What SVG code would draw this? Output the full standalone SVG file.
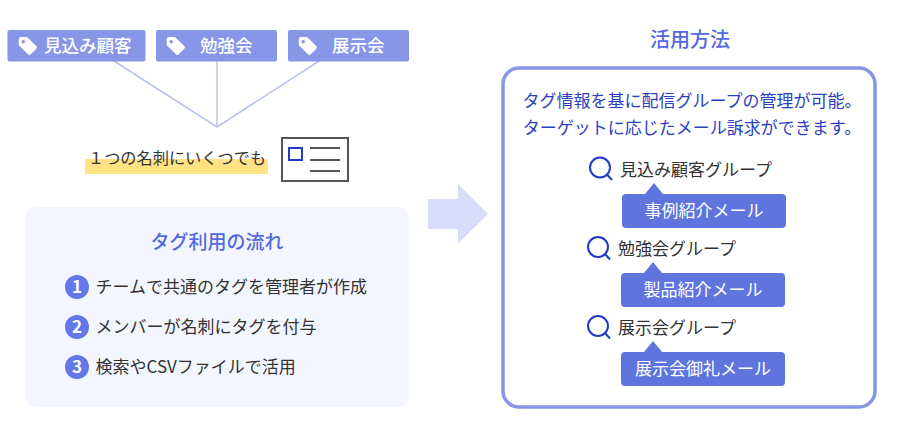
<svg xmlns="http://www.w3.org/2000/svg" width="900" height="435" viewBox="0 0 900 435">
<style>
text{font-family:"Noto Sans CJK JP","Noto Sans",sans-serif;}
.tag{fill:#8796e6;}
.tagt{font-size:17.500px;font-weight:500;fill:#fff;}
.ln{stroke:#b9c3f0;stroke-width:1.5;fill:none;}
.step{font-size:17px;fill:#333;}
.num{fill:#6478ea;}
.numt{font-size:17px;font-weight:700;fill:#fff;text-anchor:middle;}
.head{font-size:20px;font-weight:500;fill:#5468e0;text-anchor:middle;}
.blue{font-size:17px;fill:#2b3fc4;text-anchor:middle;}
.grp{font-size:17px;fill:#333;}
.pill{fill:#5f75dd;}
.pillt{font-size:17px;fill:#fff;text-anchor:middle;}
.lens{fill:none;stroke:#2239c4;stroke-width:2;}
</style>
<defs>
<path id="tagicon" d="M0 -8.500L6 -8.500L15.500 0.800Q16.500 2 15.500 3L9.500 9Q8.300 10 7.200 9L-2.200 -0.200L-2.200 -6.500Q-2.200 -8.500 0 -8.500ZM2.200 -5.600a1.800 1.800 0 1 0 0.010 0Z" fill="#fff" fill-rule="evenodd"/>
<g id="lensicon"><circle cx="0" cy="0" r="10" class="lens"/><path d="M7 7L12 12.500" class="lens"/></g>
</defs>
<g id="connectors">
<path class="ln" d="M114 61L217 127M217 61V127M319 61L217 127"/>
</g>
<g id="tag-1"><rect class="tag" x="7.500" y="30" width="138" height="31.500" rx="2"/><use href="#tagicon" x="21" y="45.500"/><text class="tagt" x="44" y="52">見込み顧客</text></g>
<g id="tag-2"><rect class="tag" x="156" y="30" width="121" height="31.500" rx="2"/><use href="#tagicon" x="169" y="45.500"/><text class="tagt" x="200" y="52">勉強会</text></g>
<g id="tag-3"><rect class="tag" x="288" y="30" width="121" height="31.500" rx="2"/><use href="#tagicon" x="301" y="45.500"/><text class="tagt" x="332" y="52">展示会</text></g>
<g id="card-caption">
<rect x="85" y="159" width="183" height="15" fill="#ffe283"/>
<text x="88" y="164" font-size="16.200" fill="#333">１つの名刺にいくつでも</text>
</g>
<g id="card-icon">
<rect x="282" y="138" width="66" height="43" fill="#fff" stroke="#555" stroke-width="2"/>
<rect x="289" y="148" width="13" height="12" fill="#fff" stroke="#2239c4" stroke-width="2"/>
<path d="M310 148H340M310 160H340M310 171H340" stroke="#555" stroke-width="2" fill="none"/>
</g>
<g id="flow-panel">
<rect x="25" y="207" width="384" height="200" rx="10" fill="#f3f6fe"/>
<text class="head" x="217" y="248.500" style="font-size:19px">タグ利用の流れ</text>
<circle class="num" cx="77" cy="287" r="12"/><text class="numt" x="77" y="293">1</text>
<text class="step" x="95.500" y="293">チームで共通のタグを管理者が作成</text>
<circle class="num" cx="77" cy="327" r="12"/><text class="numt" x="77" y="333">2</text>
<text class="step" x="95.500" y="333">メンバーが名刺にタグを付与</text>
<circle class="num" cx="77" cy="367" r="12"/><text class="numt" x="77" y="373">3</text>
<text class="step" x="95.500" y="373">検索やCSVファイルで活用</text>
</g>
<g id="big-arrow"><path d="M428 199H458V184L488 214L458 243.500V229H428Z" fill="#d8dcf8"/></g>
<text class="head" x="690" y="47">活用方法</text>
<g id="usage-panel">
<rect x="503" y="68" width="372" height="339" rx="16" fill="#fff" stroke="#8796e6" stroke-width="3.500"/>
<text class="blue" x="692" y="107">タグ情報を基に配信グループの管理が可能。</text>
<text class="blue" x="692" y="134">ターゲットに応じたメール訴求ができます。</text>
</g>
<g id="group-1">
<use href="#lensicon" x="600" y="167.500"/>
<text class="grp" x="620" y="176">見込み顧客グループ</text>
<path class="pill" d="M622 198Q622 194 626 194H645L654 183L663 194H782Q786 194 786 198V224Q786 228 782 228H626Q622 228 622 224Z"/>
<text class="pillt" x="704" y="217">事例紹介メール</text>
</g>
<g id="group-2">
<use href="#lensicon" x="598" y="247"/>
<text class="grp" x="618" y="255">勉強会グループ</text>
<path class="pill" d="M621 277Q621 273 625 273H644L653 262L662 273H781Q785 273 785 277V303Q785 307 781 307H625Q621 307 621 303Z"/>
<text class="pillt" x="703" y="296">製品紹介メール</text>
</g>
<g id="group-3">
<use href="#lensicon" x="598" y="326"/>
<text class="grp" x="618" y="334">展示会グループ</text>
<path class="pill" d="M621 356Q621 352 625 352H644L653 341L662 352H781Q785 352 785 356V382Q785 386 781 386H625Q621 386 621 382Z"/>
<text class="pillt" x="703" y="375">展示会御礼メール</text>
</g>
</svg>
